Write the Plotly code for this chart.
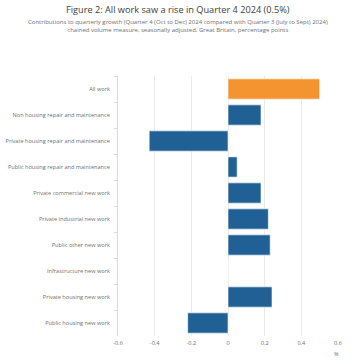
import plotly.graph_objects as go

categories = [
    "All work",
    "Non housing repair and maintenance",
    "Private housing repair and maintenance",
    "Public housing repair and maintenance",
    "Private commercial new work",
    "Private industrial new work",
    "Public other new work",
    "Infrastructure new work",
    "Private housing new work",
    "Public housing new work",
]
values = [0.50, 0.18, -0.43, 0.05, 0.18, 0.22, 0.23, 0.0, 0.24, -0.22]
x_ticks = [-0.6, -0.4, -0.2, 0, 0.2, 0.4, 0.6]
x_tick_labels = ["-0.6", "-0.4", "-0.2", "0", "0.2", "0.4", "0.6"]

title = "Figure 2: All work saw a rise in Quarter 4 2024 (0.5%)"
subtitle = ("Contributions to quarterly growth (Quarter 4 (Oct to Dec) 2024 compared with Quarter 3 (July to Sept) 2024)"
            "<br>chained volume measure, seasonally adjusted, Great Britain, percentage points")

colors = ["#F39431" if c == "All work" else "#206095" for c in categories]

W, H = 356, 364
ML, MR, MT, MB = 118, 18, 76, 28

fig = go.Figure(go.Bar(
    x=values, y=categories, orientation="h",
    marker=dict(color=colors, line=dict(color="rgba(255,255,255,0.6)", width=1)),
    width=0.78,
))

font_family = "Open Sans"
pw = W - ML - MR
cx = (W / 2 - ML) / pw  # page center in plot-paper coords

fig.update_layout(
    width=W, height=H,
    margin=dict(l=ML, r=MR, t=MT, b=MB, autoexpand=False),
    paper_bgcolor="white", plot_bgcolor="white",
    showlegend=False,
    font=dict(family=font_family, size=5.6, color="#707070"),
    xaxis=dict(
        range=[-0.6, 0.6], tickvals=x_ticks, ticktext=x_tick_labels,
        showgrid=True, gridcolor="#ebebeb", gridwidth=1,
        zeroline=False, showline=False, ticks="", automargin=False,
        tickfont=dict(size=5.6, color="#707070"), ticklabelstandoff=2,
    ),
    yaxis=dict(
        autorange="reversed", showgrid=False, zeroline=False,
        showline=True, linecolor="#d6d9e6", linewidth=1,
        ticks="outside", ticklen=3, tickcolor="#d6d9e6", tickson="boundaries",
        tickfont=dict(size=5.6, color="#707070"), ticklabelstandoff=6,
        automargin=False,
    ),
    annotations=[
        dict(text=title, x=cx, y=1, xref="paper", yref="paper", yanchor="middle",
             xanchor="center", showarrow=False, yshift=MT - 9,
             font=dict(size=9.2, color="#414042", family=font_family)),
        dict(text=subtitle, x=cx, y=1, xref="paper", yref="paper", yanchor="middle",
             xanchor="center", showarrow=False, yshift=MT - 26.3, align="center",
             font=dict(size=6.0, color="#707070", family=font_family)),
        dict(text="%", x=0.6, y=0, xref="x", yref="paper", yanchor="middle",
             xanchor="center", showarrow=False, yshift=-18, xshift=-2,
             font=dict(size=5.6, color="#707070", family=font_family)),
    ],
)

fig.write_html("out.html", config={"displayModeBar": False},
               post_script="document.body.style.margin='0';")
